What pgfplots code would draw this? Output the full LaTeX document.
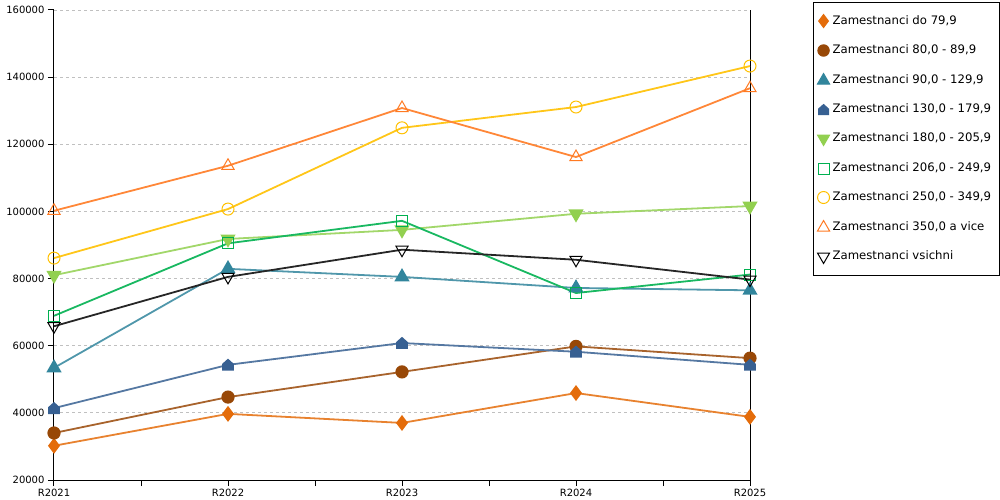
\documentclass[border=0pt]{standalone}
\usepackage{fontspec}
\setmainfont{DejaVu Sans}
\usepackage{pgfplots}
\pgfplotsset{compat=1.18}
\usetikzlibrary{plotmarks}
\definecolor{c1}{HTML}{E46C0A}
\definecolor{c2}{HTML}{984807}
\definecolor{c3}{HTML}{31859C}
\definecolor{c4}{HTML}{376092}
\definecolor{c5}{HTML}{92D050}
\definecolor{c6}{HTML}{00B050}
\definecolor{c7}{HTML}{FFC000}
\definecolor{c8}{HTML}{FF7A22}
\definecolor{c9}{HTML}{000000}
\definecolor{gridc}{HTML}{C0C0C0}
\pgfdeclareplotmark{house*}{%
  \pgfpathmoveto{\pgfqpoint{-\pgfplotmarksize}{-\pgfplotmarksize}}%
  \pgfpathlineto{\pgfqpoint{\pgfplotmarksize}{-\pgfplotmarksize}}%
  \pgfpathlineto{\pgfqpoint{\pgfplotmarksize}{0.1\pgfplotmarksize}}%
  \pgfpathlineto{\pgfqpoint{0pt}{\pgfplotmarksize}}%
  \pgfpathlineto{\pgfqpoint{-\pgfplotmarksize}{0.1\pgfplotmarksize}}%
  \pgfpathclose
  \pgfusepathqfillstroke}
\begin{document}
\begin{tikzpicture}
\path[use as bounding box] (-54pt,-20pt) rectangle (946pt,480pt);
\begin{axis}[
  at={(0pt,0pt)}, anchor=south west,
  scale only axis, width=696pt, height=470pt,
  xmin=0, xmax=4, ymin=20000, ymax=160000,
  axis x line*=bottom, axis y line*=box, ytick pos=left,
  axis line style={line width=1pt, black},
  xtick={0,1,2,3,4},
  xticklabels={R2021,R2022,R2023,R2024,R2025},
  minor xtick={0.5,1.5,2.5,3.5},
  ytick={20000,40000,60000,80000,100000,120000,140000,160000},
  scaled y ticks=false,
  /pgf/number format/assume math mode=true,
  yticklabel style={/pgf/number format/.cd, fixed, 1000 sep={}},
  tick label style={font=\fontsize{10}{12}\selectfont, black},
  tick align=outside,
  major tick length=6pt, minor tick length=6pt,
  tick style={black, line width=1pt},
  ymajorgrids,
  major grid style={gridc, dashed, line width=0.8pt, dash pattern=on 3pt off 3pt},
  every axis plot/.append style={line width=1.8pt},
  legend cell align=left,
  legend style={at={(1.0905,1.017)}, anchor=north west, draw=black, line width=1pt,
    font=\fontsize{11.7}{13}\selectfont,
    inner xsep=4pt, inner ysep=12pt,
    nodes={inner sep=0pt, text height=9pt, text depth=3pt},
    row sep=17pt, column sep=3pt},
  legend image code/.code={
    \path[draw=none, fill=none] (0pt,-6pt) (12pt,6pt);
    \draw[#1, line width=1pt] plot[only marks] coordinates {(6pt,0pt)};
  },
]
\addplot[c1!85!white, mark=diamond*, mark size=6.5pt, mark options={fill=c1, draw=c1}] coordinates {(0,30200) (1,39700) (2,37000) (3,45900) (4,38800)};
\addlegendentry{Zamestnanci do 79,9}
\addplot[c2!85!white, mark=*, mark size=5.7pt, mark options={fill=c2, draw=c2}] coordinates {(0,34000) (1,44700) (2,52200) (3,59800) (4,56300)};
\addlegendentry{Zamestnanci 80,0 - 89,9}
\addplot[c3!85!white, mark=triangle*, mark size=7pt, mark options={fill=c3, draw=c3}] coordinates {(0,53400) (1,82900) (2,80500) (3,77200) (4,76500)};
\addlegendentry{Zamestnanci 90,0 - 129,9}
\addplot[c4!85!white, mark=house*, mark size=5pt, mark options={fill=c4, draw=c4}] coordinates {(0,41400) (1,54300) (2,60800) (3,58200) (4,54300)};
\addlegendentry{Zamestnanci 130,0 - 179,9\hspace*{4pt}\mbox{}}
\addplot[c5!85!white, mark=triangle*, mark size=7pt, mark options={fill=c5, draw=c5, rotate=180}] coordinates {(0,81000) (1,91800) (2,94500) (3,99300) (4,101600)};
\addlegendentry{Zamestnanci 180,0 - 205,9}
\addplot[c6!90!white, mark=square, mark size=5.5pt, mark options={line width=1pt, draw=c6}] coordinates {(0,68900) (1,90500) (2,97200) (3,75700) (4,81200)};
\addlegendentry{Zamestnanci 206,0 - 249,9}
\addplot[c7!90!white, mark=o, mark size=6pt, mark options={line width=1pt, draw=c7}] coordinates {(0,86100) (1,100700) (2,124900) (3,131100) (4,143300)};
\addlegendentry{Zamestnanci 250,0 - 349,9}
\addplot[c8!90!white, mark=triangle, mark size=7pt, mark options={line width=1pt, draw=c8}] coordinates {(0,100200) (1,113600) (2,130800) (3,116200) (4,136700)};
\addlegendentry{Zamestnanci 350,0 a vice}
\addplot[c9!85!white, mark=triangle, mark size=7pt, mark options={line width=1pt, rotate=180, draw=c9, fill=white}] coordinates {(0,65800) (1,80500) (2,88600) (3,85600) (4,79700)};
\addlegendentry{Zamestnanci vsichni}
\end{axis}
\end{tikzpicture}
\end{document}
